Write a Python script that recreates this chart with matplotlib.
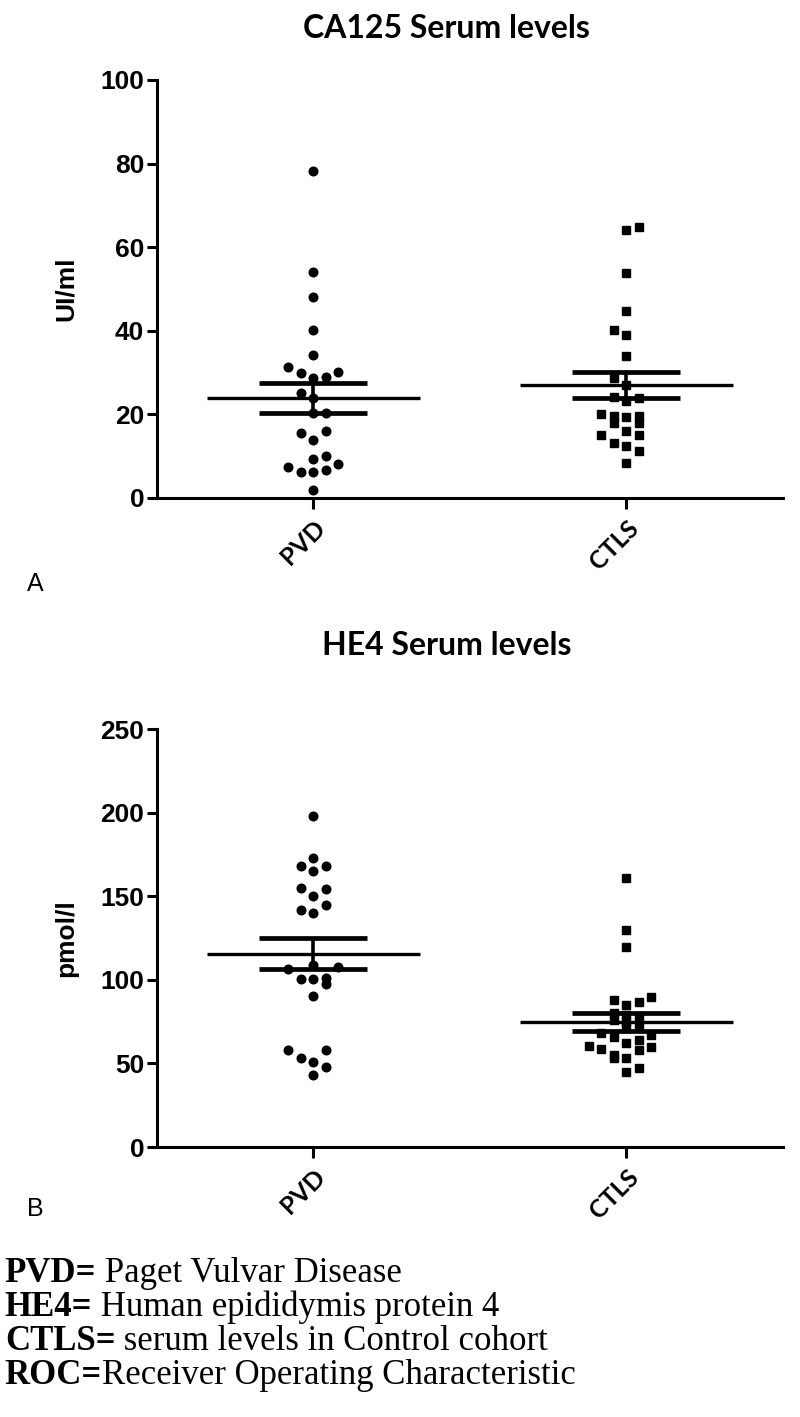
import matplotlib
matplotlib.use("Agg")
import matplotlib.pyplot as plt
import numpy as np

groups = ["PVD", "CTLS"]

# CA125 (UI/ml) - value, column slot in the scatter
ca125_pvd = [78.1, 54.1, 48.1, 40.2, 34.3, 31.4, 29.9, 28.6, 29.0, 30.2, 25.1, 24.0, 20.3,
             20.2, 15.5, 16.1, 13.9, 9.4, 10.1, 7.4, 6.2, 6.1, 6.6, 8.1, 1.9]
ca125_pvd_slot = [0, 0, 0, 0, 0, -2, -1, 0, 1, 2, -1, 0, 0, 1, -1, 1, 0, 0, 1, -2, -1, 0, 1, 2, 0]
ca125_ctls = [64.2, 64.8, 53.8, 44.8, 40.2, 39.0, 33.9, 28.8, 27.0, 24.2, 24.0, 23.1, 20.1,
              19.5, 17.9, 19.3, 19.5, 17.9, 15.1, 15.9, 15.0, 13.1, 12.5, 11.3, 8.3]
ca125_ctls_slot = [0, 1, 0, 0, -1, 0, 0, -1, 0, -1, 1, 0, -2, -1, -1, 0, 1, 1, -2, 0, 1, -1, 0, 1, 0]
ca125_mean = [23.9, 27.0]
ca125_sem = [3.6, 3.2]

# HE4 (pmol/l)
he4_pvd = [197.8, 172.9, 167.9, 167.9, 164.9, 154.9, 154.3, 149.9, 144.9, 141.9, 139.9,
           108.9, 107.9, 106.5, 100.4, 100.4, 101.0, 97.5, 90.3, 58.0, 58.0, 53.4, 50.6, 48.0, 43.0]
he4_pvd_slot = [0, 0, -1, 1, 0, -1, 1, 0, 1, -1, 0, 0, 2, -2, -1, 0, 1, 1, 0, -2, 1, -1, 0, 1, 0]
he4_ctls = [160.9, 129.9, 119.9, 89.6, 87.9, 86.6, 85.0, 80.0, 79.0, 78.0, 76.0, 75.0, 73.0,
            71.0, 68.3, 65.9, 67.0, 60.6, 58.4, 62.4, 63.9, 57.9, 59.6, 55.0, 53.3, 53.4, 45.0, 47.0]
he4_ctls_slot = [0, 0, 0, 2, -1, 1, 0, -1, 0, 1, -1, 0, 1, 0, -2, -1, 2, -3, -2, 0, 1, 1, 2,
                 -1, -1, 0, 0, 1]
he4_mean = [115.5, 74.9]
he4_sem = [9.3, 5.3]

notes = [("PVD=", " Paget Vulvar Disease"),
         ("HE4=", " Human epididymis protein 4"),
         ("CTLS=", " serum levels in Control cohort"),
         ("ROC=", "Receiver Operating Characteristic")]

SLOT_W = 0.040
TICKFONT = "Liberation Sans"
TITLEFONT = "Lato"


def panel(ax, title, title_y, ylabel, ymax, step, series, slots, means, sems):
    xs = [1, 2]
    markers = ["o", "s"]
    sizes = [6.2, 5.6]
    for i in range(2):
        x = xs[i] + np.array(slots[i]) * SLOT_W
        ax.plot(x, series[i], linestyle="none", marker=markers[i], ms=sizes[i],
                color="black", zorder=2)
        m, s = means[i], sems[i]
        ax.hlines(m, xs[i] - 0.34, xs[i] + 0.34, color="black", lw=2.4, zorder=3)
        ax.hlines([m - s, m + s], xs[i] - 0.173, xs[i] + 0.173, color="black", lw=3.4, zorder=3)
        ax.vlines(xs[i], m - s, m + s, color="black", lw=2.6, zorder=3)

    ax.set_xlim(0.5, 2.5)
    ax.set_ylim(0, ymax)
    ax.set_yticks(np.arange(0, ymax + 1, step))
    ax.set_xticks(xs)
    ax.set_xticklabels(groups, rotation=45, ha="right", rotation_mode="anchor",
                       fontsize=18, fontweight="bold", family=TITLEFONT)
    for lab in ax.get_yticklabels():
        lab.set_fontsize(19)
        lab.set_fontweight("bold")
        lab.set_family(TICKFONT)
    for sp in ["top", "right"]:
        ax.spines[sp].set_visible(False)
    for sp in ["left", "bottom"]:
        ax.spines[sp].set_linewidth(2.2)
        ax.spines[sp].set_clip_on(False)
    ax.tick_params(axis="y", direction="out", length=7, width=2.2, pad=2)
    ax.tick_params(axis="x", direction="out", length=8, width=2.2, pad=5)
    ax.set_ylabel(ylabel, fontsize=19, fontweight="bold", family=TICKFONT, labelpad=16)
    ax.set_title(title, fontsize=23, fontweight="bold", family=TITLEFONT, x=0.463,
                 y=title_y, pad=0, va="center")


def plot():
    fig = plt.figure(figsize=(8, 14.17), dpi=100)
    ax_a = fig.add_axes([0.196, 0.6486, 0.7825, 0.2950])
    ax_b = fig.add_axes([0.196, 0.1905, 0.7825, 0.2950])

    panel(ax_a, "CA125 Serum levels", 1.124, "UI/ml", 100, 20,
          [ca125_pvd, ca125_ctls], [ca125_pvd_slot, ca125_ctls_slot], ca125_mean, ca125_sem)
    panel(ax_b, "HE4 Serum levels", 1.201, "pmol/l", 250, 50,
          [he4_pvd, he4_ctls], [he4_pvd_slot, he4_ctls_slot], he4_mean, he4_sem)

    fig.text(0.034, 1 - 584 / 1417, "A", fontsize=18, family=TICKFONT, va="center")
    fig.text(0.034, 1 - 1209 / 1417, "B", fontsize=18, family=TICKFONT, va="center")

    # footnotes: bold abbreviation followed by regular text
    y0 = 1273
    for k, (abbr, text) in enumerate(notes):
        t = fig.text(0.006, 1 - (y0 + 34.3 * k) / 1417, abbr, fontsize=25, fontweight="bold",
                     family="Liberation Serif", va="center")
        ax_b.annotate(text, xy=(1, 0), xycoords=t, va="bottom", ha="left",
                      fontsize=25, family="Liberation Serif", annotation_clip=False)

    fig.savefig("out.png", dpi=100)


if __name__ == "__main__":
    plot()
